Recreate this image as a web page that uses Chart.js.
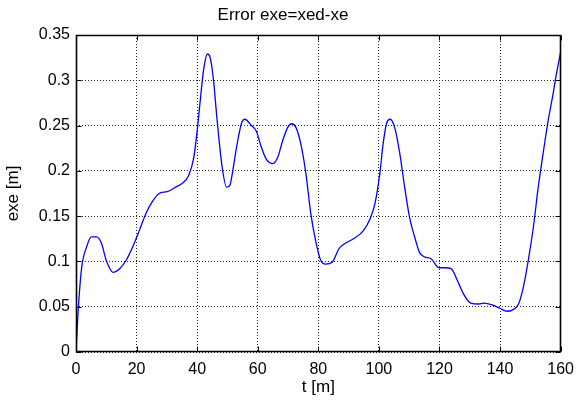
<!DOCTYPE html>
<html>
<head>
<meta charset="utf-8">
<script src="https://cdn.jsdelivr.net/npm/chart.js@4"></script>
<style>
  html, body { margin: 0; padding: 0; background: #fff; }
  canvas { display: block; }
</style>
</head>
<body>
<canvas id="errorChart" width="582" height="402"></canvas>
<script>
// values
const tValues = [0, 0.8, 1.9, 3.5, 5.1, 6.8, 8.4, 10, 12.2, 14.4, 16.5, 18.7, 20.9, 23.1, 25.2, 27.4, 30.1, 32.9, 35, 37.2,
    38.9, 40, 41, 42.1, 43.4, 44.3, 45.4, 46.5, 48.1, 49.7, 50.8, 51.4, 53, 54.6, 55.7, 57.9, 59.5, 61.2, 62.8, 65,
    66.6, 68.2, 69.9, 71.2, 72.6, 74.2, 75.9, 77.5, 79.1, 80.8, 82.4, 84.6, 86.8, 88.9, 91.6, 94.9, 97.1, 98.7, 100.3, 101.4,
    102.5, 103.7, 105.2, 106.9, 108.5, 110.1, 111.8, 113.4, 115, 117.2, 119.9, 121.6, 123.8, 125.9, 128.1, 130.3, 133, 134.6, 137.4, 140.1,
    142.3, 143.9, 146.1, 147.7, 149.3, 151, 152.6, 154.2, 155.9, 157.5, 158.6, 160];
const exeValues = [0, 0.05, 0.094, 0.116, 0.127, 0.127, 0.12, 0.101, 0.088, 0.092, 0.101, 0.116, 0.134, 0.153, 0.166, 0.175, 0.177, 0.182, 0.186, 0.195,
    0.215, 0.244, 0.277, 0.311, 0.329, 0.325, 0.300, 0.259, 0.208, 0.182, 0.184, 0.193, 0.226, 0.252, 0.257, 0.25, 0.244, 0.226, 0.213, 0.208,
    0.215, 0.233, 0.248, 0.252, 0.248, 0.23, 0.197, 0.153, 0.123, 0.101, 0.097, 0.099, 0.114, 0.12, 0.125, 0.134, 0.147, 0.164, 0.197, 0.23,
    0.252, 0.257, 0.248, 0.219, 0.182, 0.149, 0.127, 0.11, 0.105, 0.103, 0.093, 0.093, 0.092, 0.079, 0.063, 0.054, 0.053, 0.054, 0.052, 0.048,
    0.045, 0.046, 0.053, 0.072, 0.101, 0.138, 0.182, 0.219, 0.256, 0.285, 0.307, 0.331];
const xTickLabels = ['0', '20', '40', '60', '80', '100', '120', '140', '160'];
const yTickLabels = ['0', '0.05', '0.1', '0.15', '0.2', '0.25', '0.3', '0.35'];

const FONT = 'Liberation Sans, Arial, Helvetica, sans-serif';

// matlab style box with inward ticks
function drawBox(chart) {
    const { ctx, chartArea: a, scales } = chart;
    const len = 5;
    const L = Math.round(a.left) + 0.5, R = Math.round(a.right) - 0.5;
    const T = Math.round(a.top) + 0.5, B = Math.round(a.bottom) - 0.5;
    ctx.save();
    ctx.setLineDash([]);
    ctx.globalAlpha = 1;
    ctx.strokeStyle = '#000000';
    ctx.lineWidth = 1;
    ctx.beginPath();
    scales.x.ticks.forEach(t => {
        const px = Math.round(scales.x.getPixelForValue(t.value)) + 0.5;
        ctx.moveTo(px, B); ctx.lineTo(px, B - len);
        ctx.moveTo(px, T); ctx.lineTo(px, T + len);
    });
    scales.y.ticks.forEach(t => {
        const py = Math.round(scales.y.getPixelForValue(t.value)) + 0.5;
        ctx.moveTo(L, py); ctx.lineTo(L + len, py);
        ctx.moveTo(R, py); ctx.lineTo(R - len, py);
    });
    ctx.stroke();
    ctx.lineWidth = 1.6;
    ctx.beginPath();
    ctx.moveTo(L, T); ctx.lineTo(R, T); ctx.lineTo(R, B); ctx.lineTo(L, B); ctx.closePath();
    ctx.stroke();
    ctx.restore();
}

const matlabBox = {
    id: 'matlabBox',
    beforeDraw(chart) {
        const ctx = chart.ctx;
        ctx.save();
        ctx.fillStyle = '#fff';
        ctx.fillRect(0, 0, chart.width, chart.height);
        ctx.restore();
    },
    afterDatasetsDraw(chart) { drawBox(chart); }
};

new Chart(document.getElementById('errorChart'), {
    type: 'line',
    data: {
        datasets: [{
            data: tValues.map((t, i) => ({ x: t, y: exeValues[i] })),
            borderColor: '#0000ff',
            borderWidth: 1.3,
            pointRadius: 0,
            fill: false,
            cubicInterpolationMode: 'monotone'
        }]
    },
    options: {
        responsive: false,
        animation: false,
        devicePixelRatio: 1,
        layout: { padding: { left: 0, right: 16, top: 0, bottom: 0 } },
        plugins: {
            legend: { display: false },
            tooltip: { enabled: false },
            title: {
                display: true,
                text: 'Error exe=xed-xe',
                color: '#000',
                font: { family: FONT, size: 17, weight: 'normal' },
                padding: { top: 5, bottom: 9.6 }
            }
        },
        scales: {
            x: {
                type: 'linear',
                min: 0,
                max: 160,
                afterFit: s => { s.height = 50; },
                ticks: {
                    stepSize: 20,
                    color: '#000',
                    padding: 8,
                    maxRotation: 0,
                    font: { family: FONT, size: 16 },
                    callback: (v, i) => xTickLabels[i]
                },
                grid: { color: '#222', drawTicks: false },
                border: { display: false, dash: [1, 2] },
                title: {
                    display: true,
                    text: 't [m]',
                    color: '#000',
                    font: { family: FONT, size: 17 },
                    padding: { top: 0, bottom: 4 }
                }
            },
            y: {
                min: 0,
                max: 0.35,
                afterFit: s => { s.width = 76; },
                ticks: {
                    stepSize: 0.05,
                    color: '#000',
                    padding: 6,
                    font: { family: FONT, size: 16 },
                    callback: (v, i) => yTickLabels[i]
                },
                grid: { color: '#222', drawTicks: false },
                border: { display: false, dash: [1, 2] },
                title: {
                    display: true,
                    text: 'exe [m]',
                    color: '#000',
                    font: { family: FONT, size: 17 },
                    padding: { top: 3, bottom: 0 }
                }
            }
        }
    },
    plugins: [matlabBox]
});
</script>
</body>
</html>
